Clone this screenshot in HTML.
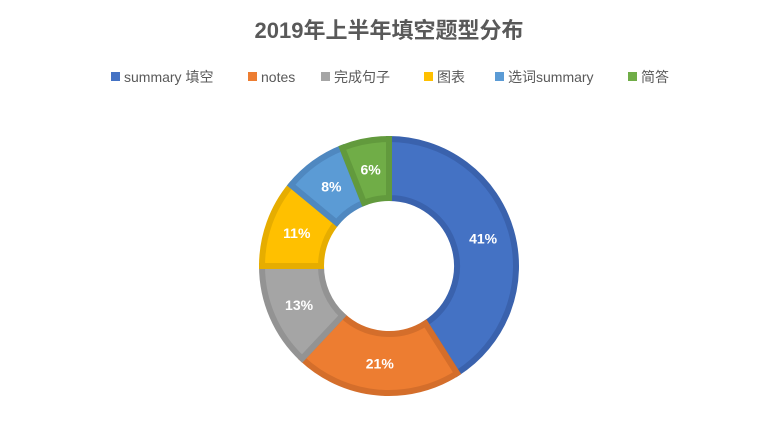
<!DOCTYPE html>
<html><head><meta charset="utf-8"><style>
body{margin:0;background:#fff;font-family:"Liberation Sans","Noto Sans CJK SC",sans-serif;}
#wrap{position:relative;width:778px;height:435px;overflow:hidden;}
</style></head><body>
<div id="wrap">
<svg id="chart" width="778" height="435">
<text x="389" y="38" text-anchor="middle" font-size="22" font-weight="bold" fill="#595959" font-family="Liberation Sans, Noto Sans CJK SC, sans-serif">2019年上半年填空题型分布</text>
<g id="legend"></g>
<g id="slices"></g>
</svg>
</div>
<script>
const categories=["summary 填空","notes","完成句子","图表","选词summary","简答"];
const values=[41,21,13,11,8,6];
const fills=["#4472C4","#ED7D31","#A5A5A5","#FFC000","#5B9BD5","#70AD47"];
const strokes=["#3A62AD","#D46E2B","#939393","#E6AD00","#4F88C0","#629A3D"];
const NS="http://www.w3.org/2000/svg";
const cx=389,cy=266,ro=127,ri=68;
const total=values.reduce((a,b)=>a+b,0);
const sg=document.getElementById('slices');
let a0=-Math.PI/2;
function pt(r,a){return [cx+r*Math.cos(a),cy+r*Math.sin(a)];}
values.forEach((v,i)=>{
  const a1=a0+v/total*2*Math.PI;
  const large=(a1-a0)>Math.PI?1:0;
  const p1=pt(ro,a0),p2=pt(ro,a1),p3=pt(ri,a1),p4=pt(ri,a0);
  const p=document.createElementNS(NS,'path');
  p.setAttribute('d',`M${p1} A${ro},${ro} 0 ${large} 1 ${p2} L${p3} A${ri},${ri} 0 ${large} 0 ${p4} Z`);
  p.setAttribute('fill',fills[i]);p.setAttribute('stroke',strokes[i]);p.setAttribute('stroke-width','6');p.setAttribute('stroke-linejoin','miter');
  
  
  sg.appendChild(p);
  const am=(a0+a1)/2,lp=pt(98,am);
  const t=document.createElementNS(NS,'text');
  t.setAttribute('x',lp[0]);t.setAttribute('y',lp[1]+5);t.setAttribute('text-anchor','middle');
  t.setAttribute('font-size','14');t.setAttribute('font-weight','bold');t.setAttribute('fill','#fff');
  t.textContent=v+'%';
  
  
  sg.appendChild(t);
  a0=a1;
});
const lg=document.getElementById('legend');
const lx=[111,248,321,424,495,628];
categories.forEach((c,i)=>{
  const g=document.createElementNS(NS,'g');
  
  
  const r=document.createElementNS(NS,'rect');
  r.setAttribute('x',lx[i]);r.setAttribute('y',72);r.setAttribute('width',9);r.setAttribute('height',9);r.setAttribute('fill',fills[i]);
  g.appendChild(r);
  const t=document.createElementNS(NS,'text');
  t.setAttribute('x',lx[i]+13);t.setAttribute('y',82);t.setAttribute('font-size','14');t.setAttribute('fill','#595959');
  t.textContent=c;g.appendChild(t);
  lg.appendChild(g);
});
</script>
</body></html>
